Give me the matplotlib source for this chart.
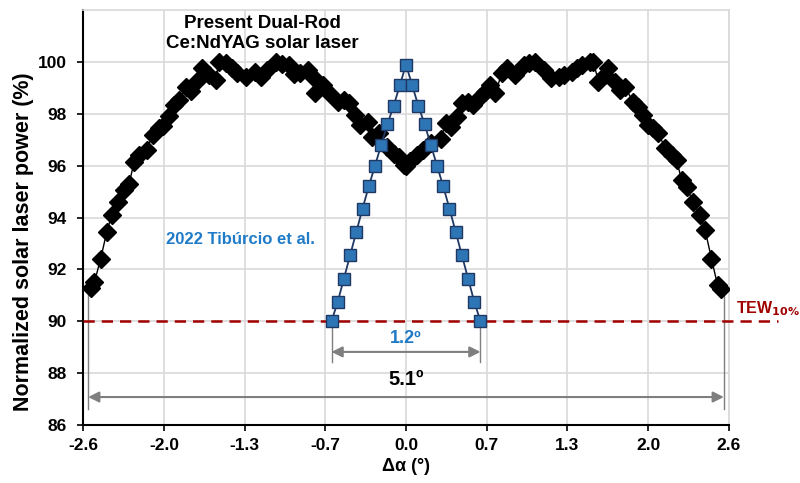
import matplotlib.pyplot as plt

plt.rcParams["font.family"] = ["Liberation Sans", "DejaVu Sans"]
plt.rcParams["font.weight"] = "bold"

# === Data ===
# Present dual-rod Ce:NdYAG solar laser (black diamonds)
dual_x = [-2.54, -2.51, -2.46, -2.41, -2.37, -2.32, -2.27, -2.23, -2.19, -2.15,
          -2.09, -2.04, -1.99, -1.96, -1.91, -1.87, -1.83, -1.77, -1.73, -1.68,
          -1.64, -1.59, -1.53, -1.51, -1.45, -1.40, -1.36, -1.29, -1.22, -1.17,
          -1.12, -1.05, -1.00, -0.94, -0.90, -0.85, -0.79, -0.75, -0.73, -0.67,
          -0.62, -0.55, -0.50, -0.46, -0.41, -0.37, -0.31, -0.27, -0.22, -0.15,
          -0.10, -0.06, -0.02, 0.00, 0.035, 0.09, 0.14, 0.20, 0.28, 0.32,
          0.36, 0.41, 0.45, 0.50, 0.54, 0.60, 0.64, 0.68, 0.72, 0.77,
          0.81, 0.88, 0.95, 0.99, 1.04, 1.11, 1.17, 1.23, 1.27, 1.34,
          1.38, 1.42, 1.48, 1.51, 1.55, 1.60, 1.63, 1.68, 1.72, 1.76,
          1.83, 1.87, 1.91, 1.95, 1.99, 2.03, 2.09, 2.14, 2.18, 2.22,
          2.26, 2.31, 2.37, 2.41, 2.46, 2.51, 2.54]
dual_y = [91.3, 91.5, 92.4, 93.45, 94.1, 94.6, 95.05, 95.3, 96.15, 96.4,
          96.6, 97.2, 97.45, 97.55, 97.9, 98.35, 98.55, 99.05, 98.9, 99.25,
          99.75, 99.5, 99.3, 100.0, 99.97, 99.75, 99.56, 99.43, 99.63, 99.43,
          99.7, 100.0, 99.92, 99.88, 99.54, 99.56, 99.69, 99.43, 98.79, 99.1,
          98.79, 98.47, 98.53, 98.4, 97.95, 97.57, 97.7, 97.12, 97.25, 96.73,
          96.47, 96.34, 96.02, 96.0, 96.2, 96.4, 96.6, 96.86, 97.05, 97.63,
          97.5, 97.89, 98.4, 98.47, 98.34, 98.66, 98.85, 99.11, 98.79, 99.56,
          99.75, 99.5, 99.88, 99.95, 100.0, 99.69, 99.37, 99.43, 99.5, 99.63,
          99.75, 99.88, 100.0, 100.0, 99.24, 99.5, 99.75, 99.24, 98.92, 99.05,
          98.47, 98.27, 97.95, 97.57, 97.44, 97.25, 96.67, 96.41, 96.22, 95.44,
          95.19, 94.61, 94.09, 93.51, 92.42, 91.39, 91.26]

# 2022 Tiburcio et al. (blue squares)
tib_x = [-0.60, -0.55, -0.50, -0.45, -0.40, -0.35, -0.30, -0.25, -0.20, -0.15,
         -0.10, -0.05, 0.00, 0.05, 0.10, 0.15, 0.20, 0.25, 0.30, 0.35,
         0.40, 0.45, 0.50, 0.55, 0.60]
tib_y = [90.0, 90.75, 91.65, 92.55, 93.45, 94.35, 95.2, 96.0, 96.8, 97.6,
         98.3, 99.1, 99.9, 99.1, 98.3, 97.6, 96.8, 96.0, 95.2, 94.35,
         93.45, 92.55, 91.65, 90.75, 90.0]

x_ticks = [-2.6, -1.95, -1.3, -0.65, 0.0, 0.65, 1.3, 1.95, 2.6]
x_tick_labels = ["-2.6", "-2.0", "-1.3", "-0.7", "0.0", "0.7", "1.3", "2.0", "2.6"]
y_ticks = [86, 88, 90, 92, 94, 96, 98, 100]

tew_level = 90
dual_width = (-2.56, 2.56)
tib_width = (-0.6, 0.6)

black_col = "black"
blue_face = "#2E75B6"
blue_edge = "#1F3864"
blue_text = "#1F7BC8"
red_col = "#A00000"
grey_col = "#7F7F7F"
grid_col = "#D9D9D9"

fig = plt.figure(figsize=(8, 4.83), dpi=100)
ax = fig.add_axes([0.104, 0.12, 0.807, 0.859])

# === Curves ===
ax.plot(dual_x, dual_y, color=black_col, lw=1.0, marker="D", markersize=9,
        markerfacecolor=black_col, markeredgecolor=black_col, zorder=4)
ax.plot(tib_x, tib_y, color=blue_edge, lw=1.3, marker="s", markersize=8,
        markerfacecolor=blue_face, markeredgecolor=blue_edge,
        markeredgewidth=1.0, zorder=5)

# TEW 10% threshold line (runs past the right edge)
ax.plot([-2.6, 3.0], [tew_level, tew_level], color=red_col, lw=1.8,
        ls=(0, (4.5, 2.8)), clip_on=False, zorder=3)
ax.text(2.655, 90.3, r"TEW$_{\mathbf{10\%}}$", color=red_col, fontsize=11.5,
        fontweight="bold", ha="left", va="baseline", clip_on=False)

# === Width annotations ===
for xv in dual_width:
    ax.plot([xv, xv], [91.25, 86.6], color=grey_col, lw=1.0, zorder=2)
ax.annotate("", xy=(dual_width[0], 87.08), xytext=(dual_width[1], 87.08),
            arrowprops=dict(arrowstyle="<|-|>", color=grey_col, lw=1.5,
                            mutation_scale=16, shrinkA=0, shrinkB=0))
ax.text(0, 87.4, "5.1º", color="black", fontsize=14.5, fontweight="bold",
        ha="center", va="bottom")

for xv in tib_width:
    ax.plot([xv, xv], [90.0, 88.45], color=grey_col, lw=1.0, zorder=2)
ax.annotate("", xy=(tib_width[0], 88.82), xytext=(tib_width[1], 88.82),
            arrowprops=dict(arrowstyle="<|-|>", color=grey_col, lw=1.5,
                            mutation_scale=16, shrinkA=0, shrinkB=0))
ax.text(0, 89.0, "1.2º", color=blue_text, fontsize=13, fontweight="bold",
        ha="center", va="bottom")

# === Series labels ===
ax.text(-1.16, 101.1, "Present Dual-Rod\nCe:NdYAG solar laser", color="black",
        fontsize=13.5, fontweight="bold", ha="center", va="center",
        linespacing=1.25)
ax.text(-1.33, 93.15, "2022 Tibúrcio et al.", color=blue_text, fontsize=12,
        fontweight="bold", ha="center", va="center")

# === Axes styling ===
ax.set_xlim(-2.6, 2.6)
ax.set_ylim(86, 102)
ax.set_xticks(x_ticks)
ax.set_xticklabels(x_tick_labels)
ax.set_yticks(y_ticks)
ax.tick_params(axis="both", labelsize=12.5, direction="out", length=4,
               width=1.2)
ax.tick_params(axis="x", pad=5)
ax.tick_params(axis="y", pad=8)
for lab in ax.get_xticklabels() + ax.get_yticklabels():
    lab.set_fontweight("bold")

ax.grid(True, color=grid_col, lw=1.2)
ax.set_axisbelow(True)
# the top frame doubles as the 102 gridline
for side in ["top", "right"]:
    ax.spines[side].set_color(grid_col)
    ax.spines[side].set_linewidth(1.2)
for side in ["left", "bottom"]:
    ax.spines[side].set_color("black")
    ax.spines[side].set_linewidth(1.5)

ax.set_xlabel("Δα (°)", fontsize=13, fontweight="bold")
ax.xaxis.set_label_coords(0.5, -0.101)
ax.xaxis.label.set_verticalalignment("center")
ax.set_ylabel("Normalized solar laser power (%)", fontsize=15.5,
              fontweight="bold")
ax.yaxis.set_label_coords(-0.093, 0.443)
ax.yaxis.label.set_verticalalignment("center")

fig.savefig("out.png", dpi=100)
